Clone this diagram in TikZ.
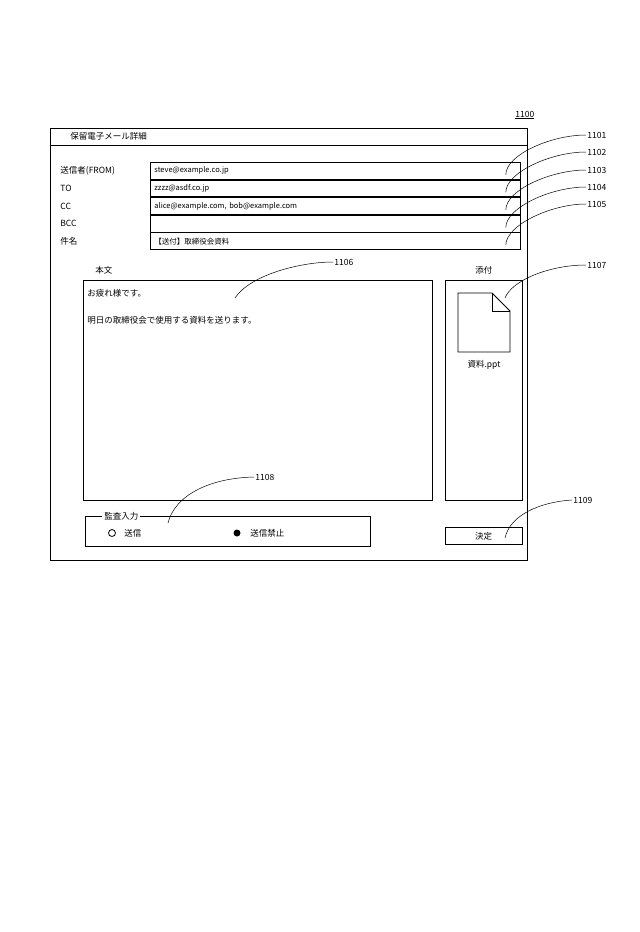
\documentclass[tikz,border=0pt]{standalone}
\usepackage{fontspec}
\setmainfont{Noto Sans CJK JP}
\usepackage{tikz}
\usetikzlibrary{positioning}
\tikzset{
  field/.style = {draw, minimum width = 370pt, minimum height = 16.8pt, inner xsep = 4pt, inner ysep = 0pt, text width = 362pt, font = \fontsize{7.5}{9}\selectfont},
  lbl/.style = {anchor = west, inner sep = 0pt, font = \fontsize{8.5}{10}\selectfont},
  num/.style = {anchor = west, inner sep = 1pt, font = \fontsize{8.5}{10}\selectfont},
  callout/.style = {line width = 0.5pt}
}
\begin{document}
\begin{tikzpicture}[x = 1pt, y = -1pt, line width = 0.8pt]
\useasboundingbox (0,0) rectangle (640,932);
% window
\draw (50,128) rectangle (527,560);
\draw (50,145) -- (527,145);
\node[lbl] (title) at (70,136.5) {保留電子メール詳細};
\node[num] (n1100) at (514,115) {\underline{1100}};
% header fields
\node[field, anchor = north west] (f1) at (150,162) {steve@example.co.jp};
\node[field, below = 0pt of f1] (f2) {zzzz@asdf.co.jp};
\node[field, below = 0pt of f2] (f3) {alice@example.com, bob@example.com};
\node[field, below = 0pt of f3] (f4) {};
\node[field, below = 0pt of f4] (f5) {【送付】取締役会資料};
\node[lbl] (l1) at ([xshift = -90pt]f1.west) {送信者(FROM)};
\node[lbl] (l2) at ([xshift = -90pt]f2.west) {TO};
\node[lbl] (l3) at ([xshift = -90pt]f3.west) {CC};
\node[lbl] (l4) at ([xshift = -90pt]f4.west) {BCC};
\node[lbl] (l5) at ([xshift = -90pt]f5.west) {件名};
\foreach \i/\y in {1/135,2/152,3/170,4/187,5/204} {
  \node[num] (n110\i) at (586,\y) {110\i};
  \coordinate (e\i) at ([xshift = -15pt, yshift = -4pt]f\i.east);
  \draw[callout] (e\i) .. controls ([yshift = 20pt]e\i) and ([xshift = -35pt]n110\i.west) .. (n110\i.west);
}
% body
\node[lbl] (bodylbl) at (95,270) {本文};
\draw (83,280) rectangle (432,500);
\node[lbl] (body1) at (87,293) {お疲れ様です。};
\node[lbl] (body2) at (87,320) {明日の取締役会で使用する資料を送ります。};
\node[num] (n1106) at (333,262) {1106};
\coordinate (e6) at (235,298);
\draw[callout] (e6) .. controls (250,275) and (300,262) .. (n1106.west);
% attachment
\node[lbl] (attlbl) at (475,270) {添付};
\draw (445,280) rectangle (522,500);
\draw (458,293) -- (492,293) -- (510,311) -- (510,352) -- (458,352) -- cycle;
\draw (492,293) -- (492,311) -- (510,311);
\node[lbl, anchor = center] (file) at (484,365) {資料.ppt};
\node[num] (n1107) at (586,265) {1107};
\coordinate (e7) at (505,298);
\draw[callout] (e7) .. controls (512,280) and (550,265) .. (n1107.west);
% audit input
\draw (85,516) rectangle (370,546);
\node[lbl, fill = white, inner xsep = 2pt] (audit) at (102,516) {監査入力};
\draw (112,533) circle (3.5pt);
\node[lbl] (send) at (124,533) {送信};
\fill (237,533) circle (3.5pt);
\node[lbl] (nosend) at (250,533) {送信禁止};
\node[num] (n1108) at (254,477) {1108};
\coordinate (e8) at (168,523);
\draw[callout] (e8) .. controls (175,495) and (210,478) .. (n1108.west);
% decide button
\node[draw, minimum width = 77pt, minimum height = 17pt, font = \fontsize{8.5}{10}\selectfont] (decide) at (483.5,536) {決定};
\node[num] (n1109) at (572,500) {1109};
\coordinate (e9) at (505,538);
\draw[callout] (e9) .. controls (510,515) and (540,502) .. (n1109.west);
\end{tikzpicture}
\end{document}
